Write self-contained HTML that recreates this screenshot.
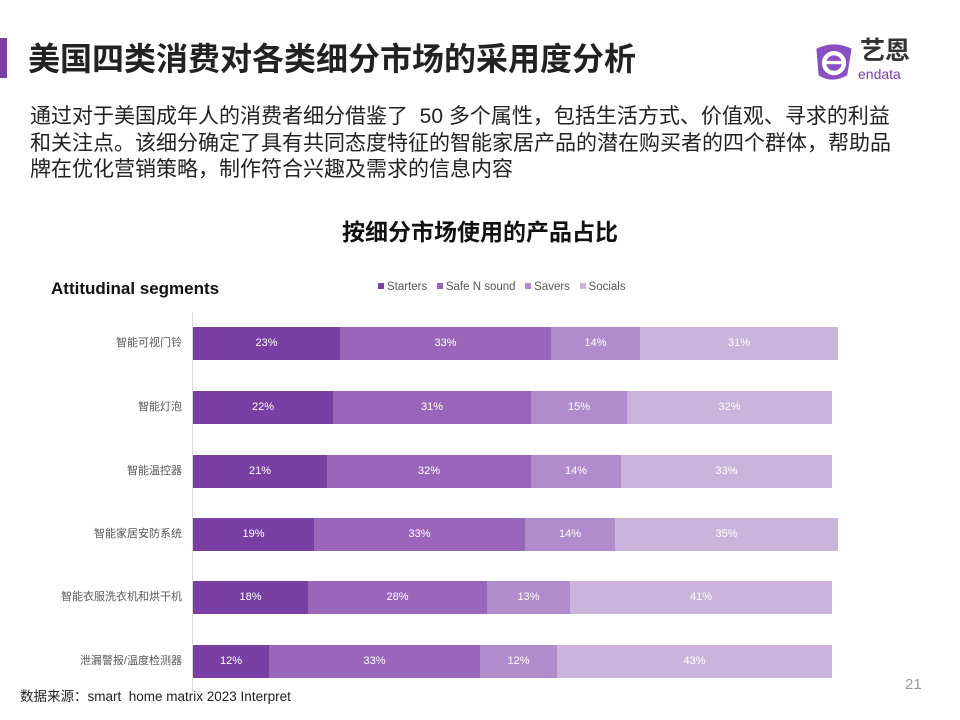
<!DOCTYPE html>
<html><head><meta charset="utf-8"><style>
body{margin:0;width:960px;height:720px;background:#fff;position:relative;overflow:hidden;font-family:"Liberation Sans","Noto Sans CJK SC",sans-serif}
.a{position:absolute;white-space:nowrap}
.bar{position:absolute;height:33px;color:#fff;font-size:11px;line-height:33px;text-align:center}
.c1{background:#7a3fa3}.c2{background:#9966b9}.c3{background:#b08ccd}.c4{background:#cbb4dc}
.lab{position:absolute;right:778px;font-size:11px;color:#595959;line-height:33px;text-align:right}
.lg{display:inline-block;width:6px;height:6px;margin-right:3px;vertical-align:1px}
</style></head><body>
<div class="a" style="left:0;top:38px;width:7px;height:40px;background:#7a3fa3"></div>
<div class="a" style="left:28px;top:38px;font-size:32px;font-weight:bold;color:#222;line-height:42px">美国四类消费对各类细分市场的采用度分析</div>
<svg class="a" style="left:812px;top:42px" width="44" height="40" viewBox="0 0 40 36"><path d="M4 6 Q20 -2 36 6 L32 30 Q18 38 6 30 Z" fill="#8a4fc0"/><circle cx="20" cy="19" r="9" fill="none" stroke="#fff" stroke-width="4"/><rect x="12" y="17" width="16" height="3" fill="#fff"/></svg>
<div class="a" style="left:860px;top:36px;font-size:25px;font-weight:bold;color:#333;line-height:30px">艺恩</div>
<div class="a" style="left:858px;top:66px;font-size:14px;color:#7a3fa3;line-height:16px">endata</div>
<div class="a" style="left:30px;top:104px;font-size:21px;color:#222;line-height:26.5px">通过对于美国成年人的消费者细分借鉴了&nbsp; 50 多个属性，包括生活方式、价值观、寻求的利益<br>和关注点。该细分确定了具有共同态度特征的智能家居产品的潜在购买者的四个群体，帮助品<br>牌在优化营销策略，制作符合兴趣及需求的信息内容</div>
<div class="a" style="left:0;width:960px;text-align:center;top:217px;font-size:23px;font-weight:bold;color:#111;line-height:30px">按细分市场使用的产品占比</div>
<div class="a" style="left:51px;top:278px;font-size:17px;font-weight:bold;color:#111;line-height:22px">Attitudinal segments</div>
<div class="a" style="left:378px;top:280px;font-size:11.5px;color:#595959;line-height:14px"><span class="lg c1"></span>Starters&nbsp;&nbsp;&nbsp;<span class="lg c2"></span>Safe N sound&nbsp;&nbsp;&nbsp;<span class="lg c3"></span>Savers&nbsp;&nbsp;&nbsp;<span class="lg c4"></span>Socials</div>
<div class="a" style="left:192px;top:312px;width:1px;height:380px;background:#d9d9d9"></div>

<div class="lab" style="top:327px">智能可视门铃</div>
<div class="bar c1" style="top:327px;left:193px;width:147px">23%</div><div class="bar c2" style="top:327px;left:340px;width:211px">33%</div><div class="bar c3" style="top:327px;left:551px;width:89px">14%</div><div class="bar c4" style="top:327px;left:640px;width:198px">31%</div>

<div class="lab" style="top:391px">智能灯泡</div>
<div class="bar c1" style="top:391px;left:193px;width:140px">22%</div><div class="bar c2" style="top:391px;left:333px;width:198px">31%</div><div class="bar c3" style="top:391px;left:531px;width:96px">15%</div><div class="bar c4" style="top:391px;left:627px;width:205px">32%</div>

<div class="lab" style="top:455px">智能温控器</div>
<div class="bar c1" style="top:455px;left:193px;width:134px">21%</div><div class="bar c2" style="top:455px;left:327px;width:204px">32%</div><div class="bar c3" style="top:455px;left:531px;width:90px">14%</div><div class="bar c4" style="top:455px;left:621px;width:211px">33%</div>

<div class="lab" style="top:518px">智能家居安防系统</div>
<div class="bar c1" style="top:518px;left:193px;width:121px">19%</div><div class="bar c2" style="top:518px;left:314px;width:211px">33%</div><div class="bar c3" style="top:518px;left:525px;width:90px">14%</div><div class="bar c4" style="top:518px;left:615px;width:223px">35%</div>

<div class="lab" style="top:581px">智能衣服洗衣机和烘干机</div>
<div class="bar c1" style="top:581px;left:193px;width:115px">18%</div><div class="bar c2" style="top:581px;left:308px;width:179px">28%</div><div class="bar c3" style="top:581px;left:487px;width:83px">13%</div><div class="bar c4" style="top:581px;left:570px;width:262px">41%</div>

<div class="lab" style="top:645px">泄漏警报/温度检测器</div>
<div class="bar c1" style="top:645px;left:193px;width:76px">12%</div><div class="bar c2" style="top:645px;left:269px;width:211px">33%</div><div class="bar c3" style="top:645px;left:480px;width:77px">12%</div><div class="bar c4" style="top:645px;left:557px;width:275px">43%</div>

<div class="a" style="left:20px;top:689px;font-size:13.5px;color:#222;line-height:16px">数据来源：smart&nbsp; home matrix 2023 Interpret</div>
<div class="a" style="left:905px;top:676px;font-size:15px;color:#999;line-height:18px">21</div>
</body></html>
